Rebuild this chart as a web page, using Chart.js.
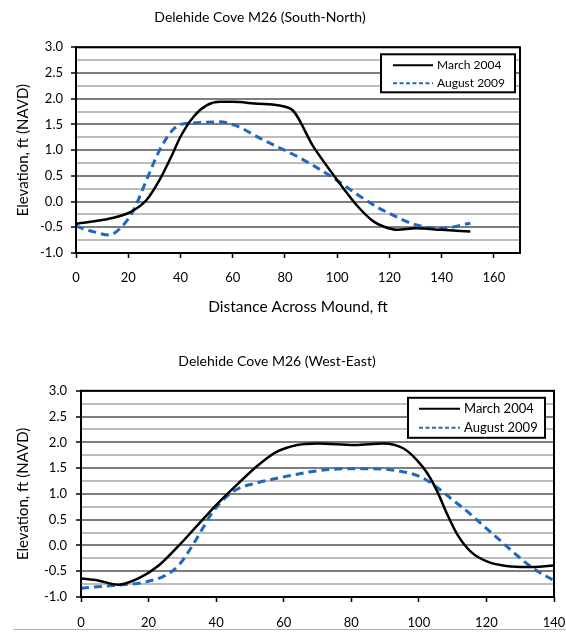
<!DOCTYPE html>
<html>
<head>
<meta charset="utf-8">
<script src="https://cdn.jsdelivr.net/npm/chart.js@4.4.1/dist/chart.umd.min.js"></script>
<style>
  body { margin: 0; background: #fff; width: 566px; height: 633px; position: relative; overflow: hidden; }
  #topChart { position: absolute; left: 0; top: 0; }
  #bottomChart { position: absolute; left: 0; top: 330px; }
  .rule { position: absolute; left: 13px; top: 629px; width: 553px; height: 1px; background: #b4b4b4; }
</style>
</head>
<body>
<canvas id="topChart" width="554" height="330"></canvas>
<canvas id="bottomChart" width="590" height="303"></canvas>
<div class="rule"></div>
<script>
// South-North profile
const snDistMarch = [0, 13, 21, 27, 32, 37, 40, 45, 50, 55, 60, 70, 82, 91, 100, 108, 114, 118, 123, 130, 140, 151];
const snElevMarch = [-0.43, -0.33, -0.20, 0.03, 0.42, 0.93, 1.26, 1.65, 1.87, 1.94, 1.94, 1.90, 1.81, 1.06, 0.42, -0.10, -0.39, -0.49, -0.55, -0.52, -0.55, -0.58];
const snDistAug = [0, 7, 12.5, 17.5, 22, 27, 32, 37, 40, 45, 55, 61, 72, 85, 97, 108, 115, 120, 130, 140, 151];
const snElevAug = [-0.48, -0.59, -0.65, -0.49, -0.17, 0.42, 1.0, 1.39, 1.50, 1.53, 1.55, 1.48, 1.19, 0.87, 0.51, 0.13, -0.10, -0.23, -0.45, -0.52, -0.42];

// West-East profile
const weDistMarch = [0, 5, 11, 17, 23, 29, 35, 41, 46.5, 52.5, 58, 64, 70, 81, 89.5, 95.5, 99.5, 102.5, 105.5, 108.5, 111.5, 115.5, 120.5, 126, 132, 140];
const weElevMarch = [-0.64, -0.68, -0.76, -0.64, -0.39, 0.0, 0.43, 0.85, 1.20, 1.56, 1.82, 1.95, 1.98, 1.95, 1.98, 1.88, 1.65, 1.40, 1.04, 0.59, 0.20, -0.13, -0.32, -0.40, -0.42, -0.39];
const weDistAug = [0, 7, 13, 19, 25, 29, 33, 36, 39, 43, 46.5, 52.5, 60, 68, 75, 85, 94.5, 100.5, 104.5, 109.5, 114.5, 119.5, 124.5, 129, 134, 140];
const weElevAug = [-0.83, -0.79, -0.76, -0.71, -0.58, -0.38, 0.0, 0.33, 0.65, 0.94, 1.10, 1.22, 1.33, 1.43, 1.48, 1.49, 1.44, 1.33, 1.17, 0.91, 0.65, 0.36, 0.07, -0.19, -0.45, -0.68];

const yTicks = [-1.0, -0.5, 0.0, 0.5, 1.0, 1.5, 2.0, 2.5, 3.0];
const seriesNames = ['March 2004', 'August 2009'];

const FONT = 'Lato, "Open Sans", sans-serif';

function toPoints(xs, ys) {
    return xs.map((x, i) => ({ x: x, y: ys[i] }));
}

function isMajor(v) {
    return yTicks.some((t) => Math.abs(t - v) < 1e-6);
}

// plot frame + boxed legend in the top right corner
const frameLegend = {
    id: 'frameLegend',
    afterDraw(chart, args, opts) {
        const { ctx, chartArea } = chart;
        ctx.save();
        ctx.strokeStyle = '#000';
        ctx.lineWidth = 2;
        ctx.strokeRect(chartArea.left, chartArea.top, chartArea.right - chartArea.left, chartArea.bottom - chartArea.top);

        const bx = chartArea.right - opts.right - opts.width;
        const by = chartArea.top + opts.top;
        ctx.fillStyle = '#fff';
        ctx.fillRect(bx, by, opts.width, opts.height);
        ctx.strokeRect(bx, by, opts.width, opts.height);

        ctx.font = opts.fontSize + 'px ' + FONT;
        ctx.textBaseline = 'middle';
        chart.data.datasets.forEach((ds, i) => {
            const ly = by + opts.rowTop + i * opts.rowGap;
            ctx.beginPath();
            ctx.strokeStyle = ds.borderColor;
            ctx.lineWidth = 2;
            ctx.setLineDash(ds.borderDash ? [4, 2.5] : []);
            ctx.moveTo(bx + opts.lineStart, ly);
            ctx.lineTo(bx + opts.lineStart + opts.lineLen, ly);
            ctx.stroke();
            ctx.setLineDash([]);
            ctx.fillStyle = '#000';
            ctx.fillText(ds.label, bx + opts.lineStart + opts.lineLen + 4, ly);
        });
        ctx.restore();
    }
};

function makeChart(canvasId, cfg) {
    return new Chart(document.getElementById(canvasId), {
        type: 'line',
        data: {
            datasets: [{
                label: seriesNames[0],
                data: toPoints(cfg.marchX, cfg.marchY),
                borderColor: '#000000',
                borderWidth: 2.5,
                pointRadius: 0,
                cubicInterpolationMode: 'monotone'
            }, {
                label: seriesNames[1],
                data: toPoints(cfg.augX, cfg.augY),
                borderColor: '#1f68bd',
                borderWidth: 3,
                borderDash: [8, 5],
                pointRadius: 0,
                cubicInterpolationMode: 'monotone'
            }]
        },
        options: {
            responsive: false,
            animation: false,
            layout: { padding: { left: 0, right: cfg.padRight, top: 0, bottom: 0 } },
            plugins: {
                legend: { display: false },
                tooltip: { enabled: false },
                title: {
                    display: true,
                    text: cfg.title,
                    color: '#000',
                    font: { family: FONT, size: 14, weight: 'normal' },
                    padding: cfg.titlePad
                },
                frameLegend: cfg.legend
            },
            scales: {
                x: {
                    type: 'linear',
                    min: 0,
                    max: cfg.xMax,
                    border: { display: false },
                    ticks: {
                        stepSize: 20,
                        includeBounds: false,
                        color: '#000',
                        font: { family: FONT, size: 13 },
                        padding: cfg.xTickPad,
                        maxRotation: 0
                    },
                    grid: { drawOnChartArea: false, drawTicks: true, tickLength: 5, tickColor: '#000', tickWidth: 1.5 },
                    title: {
                        display: !!cfg.xTitle,
                        text: cfg.xTitle,
                        color: '#000',
                        font: { family: FONT, size: 15.5 },
                        padding: { top: 0, bottom: 14 }
                    },
                    afterFit: (scale) => { scale.height = cfg.xHeight; }
                },
                y: {
                    min: -1,
                    max: 3,
                    border: { display: false },
                    ticks: {
                        stepSize: 0.25,
                        autoSkip: false,
                        color: '#000',
                        font: { family: FONT, size: 13 },
                        padding: cfg.yTickPad,
                        callback: (v) => isMajor(v) ? v.toFixed(1) : ''
                    },
                    grid: {
                        color: (c) => isMajor(c.tick.value) ? '#7e7e7e' : '#bdbdbd',
                        lineWidth: 2,
                        tickLength: 5,
                        tickColor: (c) => isMajor(c.tick.value) ? '#000' : 'rgba(0,0,0,0)',
                        tickWidth: 1.5
                    },
                    title: {
                        display: true,
                        text: 'Elevation, ft (NAVD)',
                        color: '#000',
                        font: { family: FONT, size: 15 },
                        padding: { top: 14.5, bottom: 0 }
                    },
                    afterFit: (scale) => { scale.width = cfg.yWidth; }
                }
            }
        },
        plugins: [frameLegend]
    });
}

makeChart('topChart', {
    title: 'Delehide Cove M26 (South-North)',
    marchX: snDistMarch, marchY: snElevMarch,
    augX: snDistAug, augY: snElevAug,
    xMax: 170,
    xTitle: 'Distance Across Mound, ft',
    padRight: 34,
    titlePad: { top: 9, bottom: 21.5 },
    xHeight: 77,
    xTickPad: 12,
    yWidth: 76,
    yTickPad: 8,
    legend: { right: 5, top: 7, width: 134, height: 38, rowTop: 11, rowGap: 18, lineStart: 12, lineLen: 40, fontSize: 12 }
});

makeChart('bottomChart', {
    title: 'Delehide Cove M26 (West-East)',
    marchX: weDistMarch, marchY: weElevMarch,
    augX: weDistAug, augY: weElevAug,
    xMax: 140,
    xTitle: '',
    padRight: 36,
    titlePad: { top: 23.5, bottom: 20.5 },
    xHeight: 36,
    xTickPad: 13,
    yWidth: 81,
    yTickPad: 9,
    legend: { right: 9, top: 7, width: 137, height: 40, rowTop: 11, rowGap: 19, lineStart: 11, lineLen: 41, fontSize: 13 }
});
</script>
</body>
</html>
